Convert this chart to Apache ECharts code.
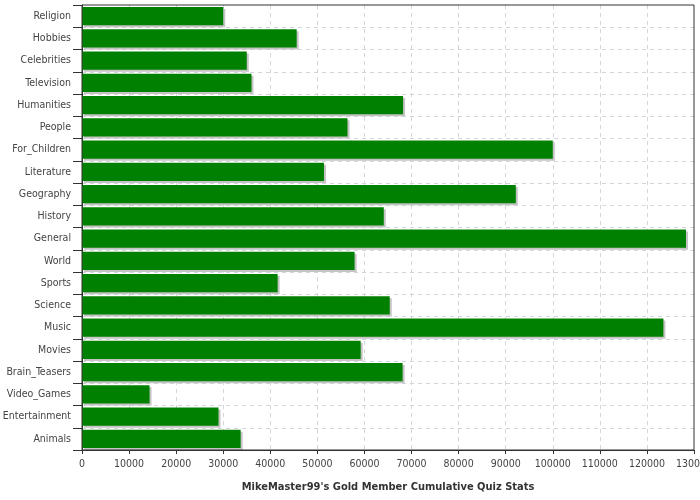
<!DOCTYPE html>
<html><head><meta charset="utf-8">
<script src="https://cdn.jsdelivr.net/npm/echarts@6/dist/echarts.min.js"></script>
<style>html,body{margin:0;padding:0;background:#fff}#c{width:700px;height:500px}</style>
</head><body><div id="c"></div>
<script>
const categories = ["Religion","Hobbies","Celebrities","Television","Humanities","People","For_Children","Literature","Geography","History","General","World","Sports","Science","Music","Movies","Brain_Teasers","Video_Games","Entertainment","Animals"];
const values = [30000,45600,35000,36000,68200,56400,100000,51400,92150,64100,128300,57900,41560,65370,123500,59200,68100,14350,29000,33700];
const axisTitle = "MikeMaster99's Gold Member Cumulative Quiz Stats";

const F = 'DejaVu Sans Condensed';
const chart = echarts.init(document.getElementById('c'), null, {renderer:'canvas'});
chart.setOption({
  animation:false,
  grid:{left:82,right:6,top:5,bottom:50,show:true,borderColor:'#333',borderWidth:1,containLabel:false,outerBoundsMode:'none',z:5},
  xAxis:{type:'value',min:0,max:130000,interval:10000,
    name:axisTitle,nameLocation:'middle',nameGap:32,
    nameTextStyle:{fontFamily:F,fontSize:11,fontWeight:'bold',color:'#333'},
    axisLine:{show:true,lineStyle:{color:'#333'}},
    axisTick:{show:true,length:4,lineStyle:{color:'#333'}},
    axisLabel:{fontFamily:F,fontSize:10.5,color:'#444',margin:9,showMaxLabel:true,hideOverlap:false,
      formatter:function(v){return String(v);}},
    splitLine:{show:true,showMinLine:false,showMaxLine:false,lineStyle:{color:'#d0d6da',type:[4,4]}}},
  yAxis:{type:'category',data:categories,inverse:true,
    axisLine:{show:true,lineStyle:{color:'#333'}},
    axisTick:{show:true,length:9,lineStyle:{color:'#333'}},
    axisLabel:{fontFamily:F,fontSize:10.5,color:'#444',margin:11},
    splitLine:{show:true,showMinLine:false,showMaxLine:false,lineStyle:{color:'#d0d6da',type:[4,4]}}},
  series:[{type:'bar',data:values,barCategoryGap:'19%',
    itemStyle:{color:'#008000',shadowColor:'#c4c4c4',shadowOffsetX:2,shadowOffsetY:2,shadowBlur:0}}]
});
</script></body></html>
